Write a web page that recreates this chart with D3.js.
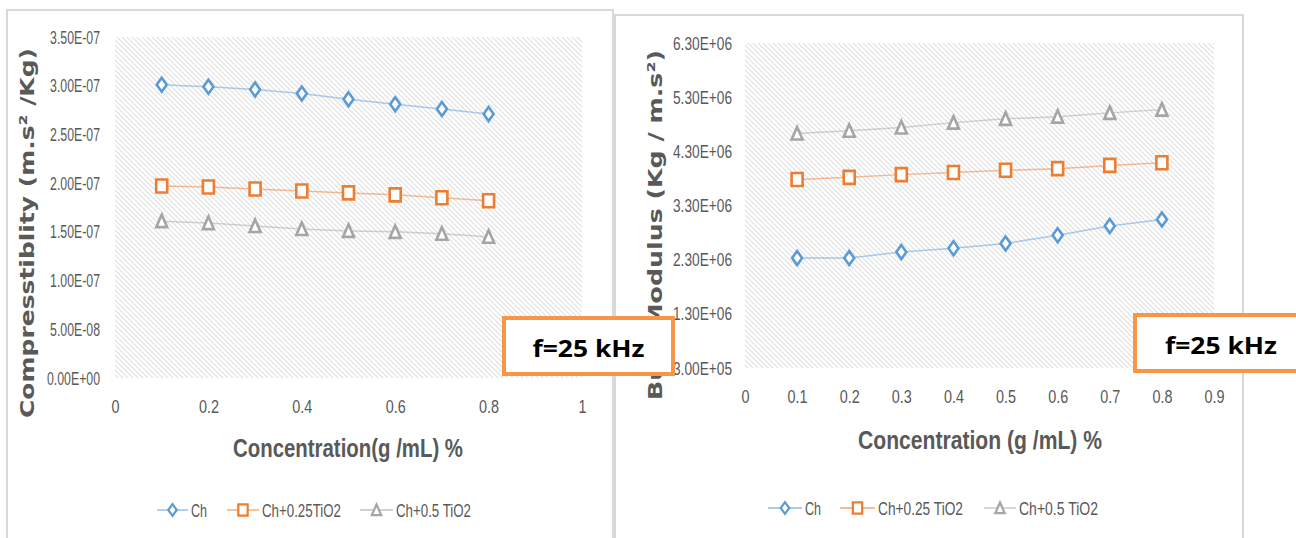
<!DOCTYPE html>
<html><head><meta charset="utf-8">
<script src="https://cdn.jsdelivr.net/npm/d3@7"></script>
<style>
html,body{margin:0;padding:0;background:#fff;}
svg{display:block;}
</style></head>
<body>
<svg id="chart" width="1296" height="538"></svg>
<script>
// ---------- data ----------
const concentrations = [0.1, 0.2, 0.3, 0.4, 0.5, 0.6, 0.7, 0.8];
const seriesNamesLeft = ["Ch", "Ch+0.25TiO2", "Ch+0.5 TiO2"];
const seriesNamesRight = ["Ch", "Ch+0.25 TiO2", "Ch+0.5 TiO2"];
const compCh   = [3.01e-7, 2.99e-7, 2.96e-7, 2.92e-7, 2.86e-7, 2.81e-7, 2.76e-7, 2.71e-7];
const compT25  = [1.97e-7, 1.96e-7, 1.94e-7, 1.92e-7, 1.90e-7, 1.88e-7, 1.85e-7, 1.82e-7];
const compT50  = [1.61e-7, 1.59e-7, 1.56e-7, 1.53e-7, 1.51e-7, 1.50e-7, 1.48e-7, 1.45e-7];
const bulkCh   = [2.33e6, 2.33e6, 2.44e6, 2.51e6, 2.60e6, 2.75e6, 2.92e6, 3.04e6];
const bulkT25  = [3.78e6, 3.82e6, 3.87e6, 3.91e6, 3.95e6, 3.98e6, 4.04e6, 4.09e6];
const bulkT50  = [4.63e6, 4.68e6, 4.74e6, 4.83e6, 4.90e6, 4.94e6, 5.01e6, 5.07e6];
const leftYTicks  = [0, 5e-8, 1e-7, 1.5e-7, 2e-7, 2.5e-7, 3e-7, 3.5e-7];
const leftXTicks  = [0, 0.2, 0.4, 0.6, 0.8, 1];
const rightYTicks = [3e5, 1.3e6, 2.3e6, 3.3e6, 4.3e6, 5.3e6, 6.3e6];
const rightXTicks = [0, 0.1, 0.2, 0.3, 0.4, 0.5, 0.6, 0.7, 0.8, 0.9];
const colors = ["#5B9BD5", "#ED7D31", "#A5A5A5"];
const shapes = ["diamond", "square", "triangle"];

// ---------- helpers ----------
const svg = d3.select("#chart");
const TICKFONT = "'Liberation Sans Narrow','Liberation Sans',Arial,sans-serif";
const TXT = "#595959";

function sci(v) {
  let s = v.toExponential(2);
  let [m, e] = s.split("e");
  let sign = e[0] === "-" ? "-" : "+";
  let n = Math.abs(parseInt(e, 10));
  return m + "E" + sign + (n < 10 ? "0" + n : "" + n);
}
function xfmt(v) { return v === 0 ? "0" : (v === 1 ? "1" : String(+v.toFixed(1))); }

function fitWidth(sel, targetW) {
  let maxL = 0;
  sel.each(function () { maxL = Math.max(maxL, this.getComputedTextLength()); });
  const f = targetW / maxL;
  sel.each(function () {
    d3.select(this).attr("textLength", this.getComputedTextLength() * f)
      .attr("lengthAdjust", "spacingAndGlyphs");
  });
}

function marker(shape) {
  if (shape === "diamond") return "M0,-7 L5,0 L0,7 L-5,0 Z";
  if (shape === "square") return "M-5.5,-6.5 L5.5,-6.5 L5.5,6.5 L-5.5,6.5 Z";
  return "M0,-6.5 L5.5,6 L-5.5,6 Z";
}

const defs = svg.append("defs");
const pat = defs.append("pattern").attr("id", "hatch")
  .attr("patternUnits", "userSpaceOnUse").attr("width", 5).attr("height", 5);
pat.append("rect").attr("width", 5).attr("height", 5).attr("fill", "#ffffff");
pat.append("path").attr("d", "M-1,-1 L6,6 M4,-1 L6,1 M-1,4 L1,6")
  .attr("stroke", "#e0e0e0").attr("stroke-width", 1.1);

function panel(x, y, w, h) {
  svg.append("rect").attr("x", x).attr("y", y).attr("width", w).attr("height", h)
    .attr("fill", "#fff").attr("stroke", "#d9d9d9").attr("stroke-width", 2);
}

function drawChart(cfg) {
  const g = svg.append("g");
  const x = d3.scaleLinear().domain(cfg.xDomain).range([cfg.left, cfg.right]);
  const y = d3.scaleLinear().domain(cfg.yDomain).range([cfg.bottom, cfg.top]);
  g.append("rect").attr("x", cfg.left).attr("y", cfg.top)
    .attr("width", cfg.right - cfg.left).attr("height", cfg.bottom - cfg.top)
    .attr("fill", "url(#hatch)");

  const ya = g.append("g").attr("transform", `translate(${cfg.left - cfg.yLabelGap},0)`)
    .call(d3.axisLeft(y).tickValues(cfg.yTicks).tickFormat(sci).tickSize(0).tickPadding(0));
  ya.select(".domain").remove();
  ya.attr("font-size", null).attr("font-family", null);
  ya.selectAll("text").style("font-family", TICKFONT).style("font-size", "19px").attr("fill", TXT)
    .call(fitWidth, cfg.yLabelW);

  const xa = g.append("g").attr("transform", `translate(0,${cfg.bottom + cfg.xLabelGap})`)
    .call(d3.axisBottom(x).tickValues(cfg.xTicks).tickFormat(xfmt).tickSize(0).tickPadding(0));
  xa.select(".domain").remove();
  xa.attr("font-size", null).attr("font-family", null);
  xa.selectAll("text").style("font-family", TICKFONT).style("font-size", "19px").attr("fill", TXT)
    .call(fitWidth, 20);

  const line = d3.line().x((d, i) => x(concentrations[i])).y(d => y(d));
  cfg.series.forEach((s, k) => {
    g.append("path").attr("d", line(s)).attr("fill", "none")
      .attr("stroke", colors[k]).attr("stroke-width", 1.5).attr("stroke-opacity", 0.5);
    g.selectAll(null).data(s).enter().append("path")
      .attr("d", marker(shapes[k]))
      .attr("transform", (d, i) => `translate(${x(concentrations[i])},${y(d)})`)
      .attr("fill", "#fff").attr("stroke", colors[k]).attr("stroke-width", 2.6);
  });

  g.append("text").attr("x", cfg.xTitlePos[0]).attr("y", cfg.xTitlePos[1])
    .attr("text-anchor", "middle").attr("dominant-baseline", "central")
    .attr("font-family", TICKFONT).attr("font-weight", "bold").attr("font-size", 25)
    .attr("fill", TXT).attr("textLength", cfg.xTitleLen).attr("lengthAdjust", "spacingAndGlyphs")
    .text(cfg.xTitle);
  g.append("text").attr("transform", `translate(${cfg.yTitlePos[0]},${cfg.yTitlePos[1]}) rotate(-90)`)
    .attr("text-anchor", "middle").attr("dominant-baseline", "central")
    .attr("font-family", "'DejaVu Sans',Verdana,sans-serif").attr("font-weight", "bold").attr("font-size", 20)
    .attr("fill", TXT).attr("textLength", cfg.yTitleLen).attr("lengthAdjust", "spacingAndGlyphs")
    .text(cfg.yTitle);

  cfg.legend.forEach((L, k) => {
    const lg = g.append("g");
    lg.append("line").attr("x1", L.x1).attr("x2", L.x2).attr("y1", cfg.legendY).attr("y2", cfg.legendY)
      .attr("stroke", colors[k]).attr("stroke-width", 1.3).attr("stroke-opacity", 0.7);
    lg.append("path").attr("d", marker(shapes[k]))
      .attr("transform", `translate(${(L.x1 + L.x2) / 2},${cfg.legendY}) scale(0.85)`)
      .attr("fill", "#fff").attr("stroke", colors[k]).attr("stroke-width", 2.6);
    lg.append("text").attr("x", L.x2 + 3).attr("y", cfg.legendY).attr("dominant-baseline", "central")
      .attr("font-family", TICKFONT).attr("font-size", 19).attr("fill", TXT)
      .attr("textLength", L.w).attr("lengthAdjust", "spacingAndGlyphs")
      .text(cfg.names[k]);
  });
}

function freqBox(x, y, w, h) {
  svg.append("rect").attr("x", x).attr("y", y).attr("width", w).attr("height", h)
    .attr("fill", "#fff").attr("stroke", "#F79646").attr("stroke-width", 4);
  svg.append("text").attr("x", x + w / 2).attr("y", y + h / 2 + 1)
    .attr("text-anchor", "middle").attr("dominant-baseline", "central")
    .attr("font-family", "'Open Sans',Lato,sans-serif").attr("font-weight", "bold")
    .attr("font-size", 24).attr("fill", "#000")
    .attr("textLength", 112).attr("lengthAdjust", "spacingAndGlyphs")
    .text("f=25 kHz");
}

panel(7, 10, 606, 540);
drawChart({
  xDomain: [0, 1], yDomain: [0, 3.5e-7],
  left: 115, right: 582, top: 37, bottom: 378,
  yTicks: leftYTicks, xTicks: leftXTicks,
  yLabelGap: 15, xLabelGap: 21, yLabelW: 53,
  series: [compCh, compT25, compT50],
  xTitle: "Concentration(g /mL) %", xTitlePos: [348, 448], xTitleLen: 230,
  yTitle: "Compresstiblity (m.s² /Kg)", yTitlePos: [27, 233], yTitleLen: 370,
  names: seriesNamesLeft, legendY: 510,
  legend: [{x1: 157, x2: 188, w: 16}, {x1: 227, x2: 259, w: 79}, {x1: 360, x2: 393, w: 75}]
});

panel(615, 15, 628, 540);
drawChart({
  xDomain: [0, 0.9], yDomain: [3e5, 6.3e6],
  left: 745, right: 1214, top: 43, bottom: 368,
  yTicks: rightYTicks, xTicks: rightXTicks,
  yLabelGap: 13, xLabelGap: 21, yLabelW: 59,
  series: [bulkCh, bulkT25, bulkT50],
  xTitle: "Concentration (g /mL) %", xTitlePos: [980, 440], xTitleLen: 244,
  yTitle: "Bulk Modulus (Kg / m.s²)", yTitlePos: [655, 225], yTitleLen: 350,
  names: seriesNamesRight, legendY: 508,
  legend: [{x1: 768, x2: 802, w: 16}, {x1: 840, x2: 875, w: 85}, {x1: 984, x2: 1016, w: 79}]
});

freqBox(504, 318, 169, 56);
freqBox(1135, 315, 172, 56);
</script>
</body></html>
